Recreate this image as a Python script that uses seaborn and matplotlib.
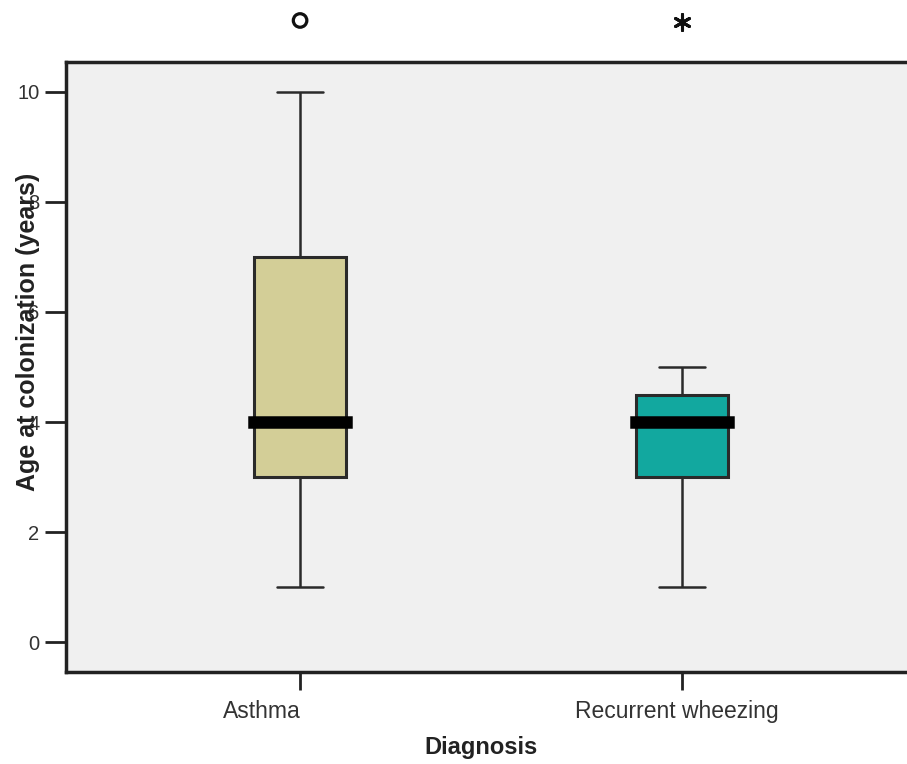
import numpy as np
import pandas as pd
import matplotlib.pyplot as plt
import matplotlib.transforms as mtransforms
import seaborn as sns

# five-number summaries (min, Q1, median, Q3, max)
diagnoses = ["Asthma", "Recurrent wheezing"]
asthma_vals = [1, 3, 4, 7, 10]
wheezing_vals = [1, 3, 4, 4.5, 5]
# outliers sit above the plotted range in the original
outlier_x = ["Asthma", "Recurrent wheezing"]
outlier_y = [11.3, 11.27]
outlier_marker = ["o", (6, 2, 0)]
box_colors = ["#D3CE97", "#12A89F"]
y_ticks = [0, 2, 4, 6, 8, 10]

df = pd.DataFrame({
    "Diagnosis": ["Asthma"] * len(asthma_vals) + ["Recurrent wheezing"] * len(wheezing_vals),
    "Age": asthma_vals + wheezing_vals,
})

sns.set_style("white")
plt.rcParams['font.family'] = ['Liberation Sans', 'DejaVu Sans']

fig = plt.figure(figsize=(9.07, 7.64), dpi=100)
ax = fig.add_axes([66 / 907, 1 - 672 / 764, 850 / 907, 610 / 764])
ax.set_facecolor("#F0F0F0")

sns.boxplot(data=df, x="Diagnosis", y="Age", hue="Diagnosis", order=diagnoses,
            palette=box_colors, saturation=1, width=0.24, whis=np.inf, showfliers=False,
            linecolor="#2a2a2a", linewidth=2, legend=False, ax=ax,
            medianprops=dict(color="black", linewidth=9, solid_capstyle="projecting"),
            boxprops=dict(linewidth=2.2),
            whiskerprops=dict(linewidth=1.8),
            capprops=dict(linewidth=1.8))

# outliers drawn outside the frame like the original
for xi, yi, m in zip(outlier_x, outlier_y, outlier_marker):
    pos = diagnoses.index(xi)
    if m == "o":
        ax.scatter([pos], [yi], marker="o", s=95, facecolors="none",
                   edgecolors="#111111", linewidths=2.3, clip_on=False, zorder=5)
    else:
        ax.scatter([pos], [yi], marker=m, s=130, color="#111111",
                   linewidths=2.2, clip_on=False, zorder=5)

ax.set_xlim(-0.613, 1.613)
ax.set_ylim(-0.545, 10.545)
ax.set_yticks(y_ticks)
ax.set_yticklabels([str(t) for t in y_ticks])

for side in ["top", "left", "bottom"]:
    ax.spines[side].set_visible(True)
    ax.spines[side].set_color("#222222")
    ax.spines[side].set_linewidth(2.5)
ax.spines["right"].set_visible(False)

ax.tick_params(axis="y", direction="out", length=15, width=2, color="#222222",
               labelsize=14.5, labelcolor="#333333", pad=4, left=True)
ax.tick_params(axis="x", direction="out", length=13, width=2, color="#222222",
               labelsize=16.5, labelcolor="#333333", pad=7, bottom=True)

# the category labels sit a little left of their ticks in the original
label_shift = [-38, -5]
for lab, dx in zip(ax.get_xticklabels(), label_shift):
    lab.set_transform(lab.get_transform() + mtransforms.ScaledTranslation(dx / 100, 0, fig.dpi_scale_trans))

ax.set_xlabel("Diagnosis", fontsize=17, fontweight="bold", color="#222222")
ax.xaxis.set_label_coords(0.488, -0.105)
# label overlaps the 4/6/8 tick labels, as in the original
ax.set_ylabel("Age at colonization (years)", fontsize=18, fontweight="bold", color="#222222")
ax.yaxis.set_label_coords(-0.031, 0.557)

fig.savefig("out.png", dpi=100)
